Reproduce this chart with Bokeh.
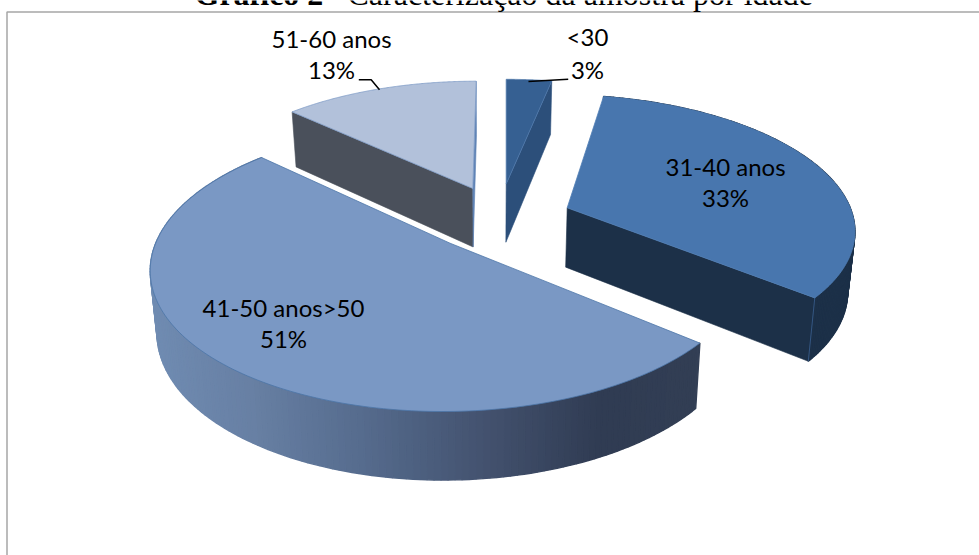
import numpy as np
from bokeh.core.properties import value
from bokeh.embed import file_html
from bokeh.models import Range1d
from bokeh.plotting import figure
from bokeh.resources import INLINE

# Age distribution, clockwise from twelve o'clock
categories = ["<30", "31-40 anos", "41-50 anos>50", "51-60 anos"]
shares = [3, 33, 51, 13]
share_labels = ["3%", "33%", "51%", "13%"]

# Projection of each exploded wedge: apex, horizontal and vertical radius,
# shear and perspective strength
views = [
    dict(ax=505.7, ay=183.5, a=285, b=123.0, c=0.0, k=0.175),
    dict(ax=566.7, ay=207.3, a=283, b=128.8, c=-11.9, k=0.139),
    dict(ax=449.5, ay=242.7, a=294.3, b=139.7, c=6.2, k=0.17),
    dict(ax=472.3, ay=188.0, a=277, b=123.4, c=3.9, k=0.15),
]

top_colors = ["#366092", "#4876ae", "#7a98c4", "#b2c1da"]
edge_colors = ["#4f79ac", "#4f7db5", "#4d76a8", "#7f9cc6"]
wall_colors = ["#2c4f7a", "#1c3048", "#333f55", "#4a505b"]

# Lit-to-shaded ramp across the rim of the largest wedge
ramp_x = [150, 250, 360, 500, 600, 697]
ramp_rgb = [(112, 140, 178), (104, 128, 164), (86, 108, 142), (65, 79, 107), (48, 60, 83), (51, 63, 85)]


def rim(view, theta):
    """Screen position of a point on the wedge's arc; theta in radians from the top."""
    X, Y = np.sin(theta), np.cos(theta)
    d = 1 + view["k"] * Y
    return view["ax"] + (view["a"] * X + view["c"] * Y) / d, view["ay"] - view["b"] * Y / d


def extrude(x, y):
    """Map a point on the upper face to the lower face of the disc."""
    x, y = np.asarray(x, float), np.asarray(y, float)
    return 490 + (x - 490) * 0.98, y * 1.045 + 50


p = figure(width=979, height=555, output_backend="svg", toolbar_location=None,
           x_range=Range1d(0, 979), y_range=Range1d(555, 0), min_border=0)
p.axis.visible = False
p.grid.visible = False
p.outline_line_color = None
p.background_fill_color = "white"
p.border_fill_color = "white"

# Chart frame
p.line([6.5, 6.5, 979], [555, 11.5, 11.5], line_color="#a6a6a6", line_width=1.5)

# Wedge spans in radians
edges = np.cumsum([0] + shares) / sum(shares) * 2 * np.pi


def quad(x0, y0, x1, y1, color, stroke=0.6):
    bx0, by0 = extrude(x0, y0)
    bx1, by1 = extrude(x1, y1)
    p.patch([x0, x1, bx1, bx0], [y0, y1, by1, by0], fill_color=color,
            line_color=color, line_width=stroke)


for i in [0, 3, 1, 2]:
    v = views[i]
    th = np.linspace(edges[i], edges[i + 1], 160)
    arc_x, arc_y = rim(v, th)
    sx, sy = arc_x[0], arc_y[0]
    ex, ey = arc_x[-1], arc_y[-1]

    if categories[i] == "<30":
        quad(v["ax"], v["ay"], ex, ey, wall_colors[i])
    elif categories[i] == "51-60 anos":
        quad(sx, sy, v["ax"], v["ay"], wall_colors[i])
        quad(v["ax"], v["ay"], ex, ey, "#5f83b5")
    elif categories[i] == "31-40 anos":
        quad(v["ax"], v["ay"], ex, ey, wall_colors[i])
        for j in range(len(th) - 1):
            quad(arc_x[j], arc_y[j], arc_x[j + 1], arc_y[j + 1], wall_colors[i], stroke=1.4)
        bx, by = extrude(ex, ey)
        p.line([ex, float(bx)], [ey, float(by)], line_color="#3a6090", line_width=0.8)
    else:
        for j in range(len(th) - 1):
            mid = (arc_x[j] + arc_x[j + 1]) / 2
            rgb = [int(np.interp(mid, ramp_x, [c[n] for c in ramp_rgb])) for n in range(3)]
            quad(arc_x[j], arc_y[j], arc_x[j + 1], arc_y[j + 1], "#%02x%02x%02x" % tuple(rgb), stroke=1.4)

    p.patch(list(arc_x) + [v["ax"]], list(arc_y) + [v["ay"]], fill_color=top_colors[i],
            line_color=edge_colors[i], line_width=0.8)

# Leader lines from outside labels to their wedges
p.line([358.3, 370.7, 379], [79.3, 79.3, 89.3], line_color="black", line_width=1.5)
p.line([528, 567.7], [81, 78.7], line_color="black", line_width=1.5)

# Wedge labels
label_x = [587, 725, 283, 331]
name_y = [36, 166, 307, 38]
share_y = [69, 197, 338, 69]
for x, yn, ys, name, share in zip(label_x, name_y, share_y, categories, share_labels):
    for y, t in ((yn, name), (ys, share)):
        p.text([x], [y], text=[t], text_font=value("Lato"), text_font_size="24px",
               text_align="center", text_baseline="middle", text_color="black")

# Heading, partly running off the top of the page
p.text([194], [-7], text=["Gráfico 2"], text_font=value("Liberation Serif"), text_font_size="32px",
       text_font_style="bold", text_baseline="alphabetic", text_color="black")
p.text([347], [-7], text=["Caracterização da amostra por idade"], text_font=value("Liberation Serif"),
       text_font_size="32px", text_baseline="alphabetic", text_color="black")

open("out.html", "w").write(file_html(p, INLINE))
